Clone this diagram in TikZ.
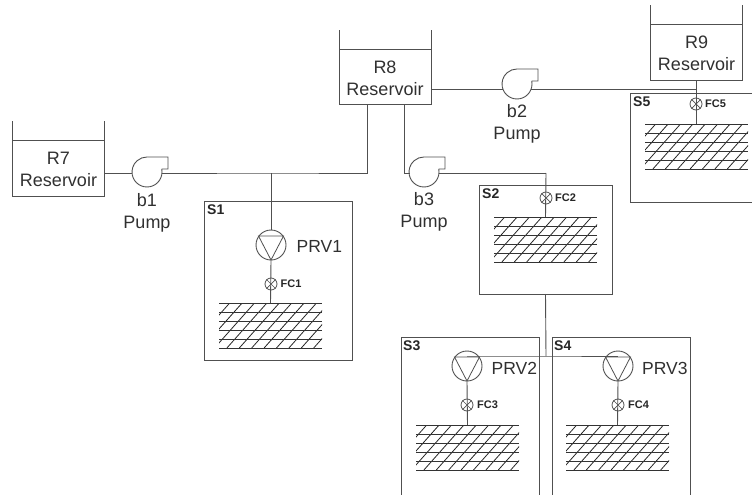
\documentclass[tikz,border=0pt]{standalone}
\usepackage{fontspec}
\setmainfont{Liberation Sans}
\definecolor{ln}{HTML}{505050}
\definecolor{tx}{HTML}{303030}
\tikzset{
  pipe/.style={draw=ln,line width=0.9pt},
  frame/.style={draw=ln,line width=0.9pt},
  label/.style={text=tx,font=\fontsize{18}{22}\selectfont,align=center,inner sep=0pt},
  prvlabel/.style={text=tx,font=\fontsize{17.5}{21}\selectfont,inner sep=0pt,anchor=west},
  tag/.style={text=black!85,font=\fontsize{14}{16}\selectfont\bfseries,inner sep=0pt,anchor=north west},
  fctag/.style={text=black!85,font=\fontsize{11}{13}\selectfont\bfseries,inner sep=0pt,anchor=west},
  pumpnode/.style={circle,minimum size=30pt,inner sep=0pt},
  prvnode/.style={circle,draw=ln,line width=0.9pt,minimum size=30pt,inner sep=0pt},
  fcnode/.style={circle,draw=ln,line width=0.8pt,minimum size=12pt,inner sep=0pt},
  sysbox/.style={frame},
}
% tank: name, centre x, water y, bottom y, top y, text
\newcommand{\tankat}[6]{%
  \draw[frame] (#2-46,#3) -- (#2-46,#5) (#2+46,#3) -- (#2+46,#5);
  \node[draw=ln,line width=0.9pt,inner sep=0pt,minimum width=92pt,minimum height={(#4-#3)*1pt}] (#1) at (#2,{(#3+#4)/2}) {};
  \node[label] (#1t) at (#2,{(#3+#4)/2+1.7}) {#6};
}
% pump: name, cx, cy
\newcommand{\pumpat}[3]{%
  \node[pumpnode] (#1) at (#2,#3) {};
  \draw[pipe] (#2+14.7,#3-3) arc[start angle=-11.5,end angle=-270+540,radius=15] -- (#2+21,#3-15) -- (#2+21,#3-3) -- (#2+14.7,#3-3);
}
% hatch: name, left, top
\newcommand{\hatchat}[3]{%
  \coordinate (#1) at ({#2+51.5},#3);
  \begin{scope}
    \clip (#2,#3) rectangle (#2+103,#3+45);
    \foreach \k in {0,...,10} {
      \draw[black!85,line width=0.8pt] ({#2+\k*12.4+10.7-40},#3+45) -- ({#2+\k*12.4+10.7},#3);
    }
  \end{scope}
  \foreach \r in {0,...,5} {
    \draw[black!80,line width=0.9pt] (#2,{#3+\r*9}) -- (#2+103,{#3+\r*9});
  }
}
% prv: name, cx, cy
\newcommand{\prvat}[3]{%
  \node[prvnode] (#1) at (#2,#3) {};
  \draw[pipe,line width=0.8pt] (#2-12.5,#3-9) -- (#2,#3+15) -- (#2+12.5,#3-9) -- cycle;
}
% flow control: name, cx, cy
\newcommand{\fcat}[3]{%
  \node[fcnode] (#1) at (#2,#3) {};
  \draw[pipe,line width=0.7pt] (#1.45) -- (#1.225) (#1.135) -- (#1.315);
}
\begin{document}
\begin{tikzpicture}[x=1pt,y=-1pt]
\useasboundingbox (0,0) rectangle (752,495);
% system boxes
\draw[sysbox] (204,201) rectangle (352,360);
\draw[sysbox] (479,185) rectangle (612,294);
\draw[sysbox] (401,495) -- (401,337) -- (539,337) -- (539,495);
\draw[sysbox] (552,495) -- (552,337) -- (690,337) -- (690,495);
\draw[sysbox] (752,93) -- (630,93) -- (630,202) -- (752,202);
\node[tag] (s1) at (207,205) {S1};
\node[tag] (s2) at (482,189) {S2};
\node[tag] (s3) at (403,341) {S3};
\node[tag] (s4) at (554,341) {S4};
\node[tag] (s5) at (633,97) {S5};
% tanks
\tankat{R7}{58.5}{140}{196}{121}{R7\\Reservoir}
\tankat{R8}{385}{49}{104}{30}{R8\\Reservoir}
\tankat{R9}{696.5}{24}{80}{5}{R9\\Reservoir}
% junction coordinates
\coordinate (r7out) at (R7.east|-0,173);
\coordinate (b1in) at (132,173);
\coordinate (b1out) at (161.5,173);
\coordinate (j1) at (271,173);
\coordinate (j2) at (367,173);
\coordinate (r8e) at (R8.east|-0,89);
\coordinate (b2in) at (502.5,89);
\coordinate (b2out) at (531,89);
\coordinate (j9) at (696,89);
\coordinate (b3c) at (404,173);
\coordinate (b3in) at (409.5,173);
\coordinate (b3out) at (438.5,173);
\coordinate (j3) at (546,173);
\coordinate (j4) at (546,356);
\coordinate (p2t) at (467,356);
\coordinate (p3t) at (618,356);
% pipes
\draw[pipe] (r7out) -- (b1in);
\draw[pipe] (b1out) -- (j1) -- (j2) -- (j2|-R8.south);
\draw[pipe] (r8e) -- (b2in);
\draw[pipe] (b2out) -- (j9);
\draw[pipe] (b3c|-R8.south) -- (b3c) -- (b3in);
\draw[pipe] (b3out) -- (j3);
\draw[pipe] (p2t) -- (j4) -- (p3t);
% pumps
\pumpat{b1}{147}{172}
\pumpat{b2}{517}{84}
\pumpat{b3}{424}{172}
\node[label] (b1t) at (147,212.5) {b1\\Pump};
\node[label] (b2t) at (517,124) {b2\\Pump};
\node[label] (b3t) at (424,211.5) {b3\\Pump};
% PRVs
\prvat{prv1}{271}{245}
\prvat{prv2}{467}{366}
\prvat{prv3}{618}{366}
\node[prvlabel] (prv1t) at (296.5,246) {PRV1};
\node[prvlabel] (prv2t) at (491.5,368) {PRV2};
\node[prvlabel] (prv3t) at (642,368) {PRV3};
% hatches
\hatchat{h1}{219}{303}
\hatchat{h2}{494}{217}
\hatchat{h3}{416}{425}
\hatchat{h4}{566}{425}
\hatchat{h5}{645}{124}
% flow controls
\fcat{fc1}{271}{284}
\fcat{fc2}{546}{198}
\fcat{fc3}{467}{405}
\fcat{fc4}{618}{405}
\fcat{fc5}{696}{104}
\node[fctag] (fc1t) at (280.5,284) {FC1};
\node[fctag] (fc2t) at (555,198) {FC2};
\node[fctag] (fc3t) at (477,405) {FC3};
\node[fctag] (fc4t) at (628,405) {FC4};
\node[fctag] (fc5t) at (705,104) {FC5};
% stems
\draw[pipe] (j1) -- (prv1.north);
\draw[pipe] (prv1.south) -- (h1);
\draw[pipe] (j3) -- (h2);
\draw[pipe] (h2|-0,294) -- (j4);
\draw[pipe] (prv2.south) -- (h3);
\draw[pipe] (prv3.south) -- (h4);
\draw[pipe] (R9.south) -- (h5);
\end{tikzpicture}
\end{document}
